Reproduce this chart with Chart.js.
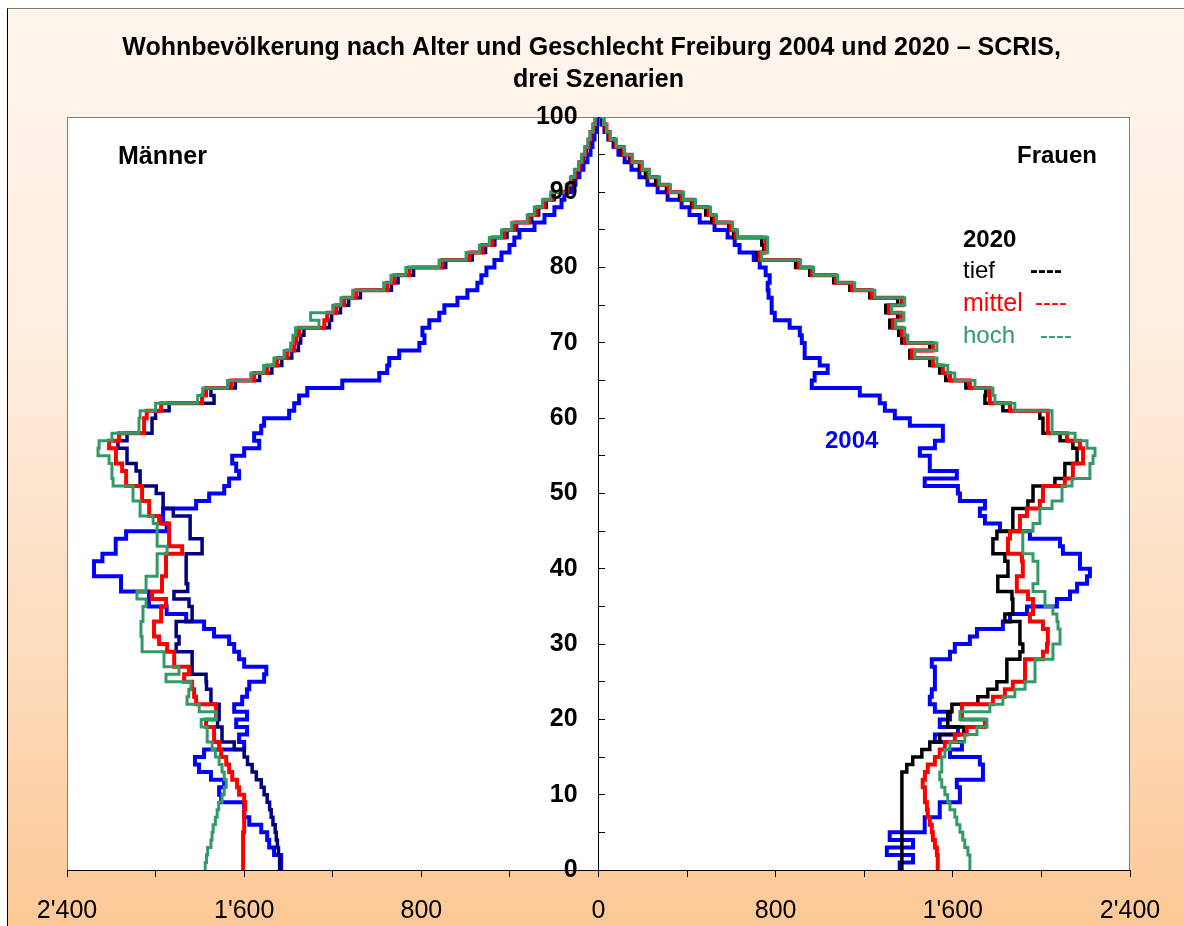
<!DOCTYPE html>
<html><head><meta charset="utf-8">
<script src="https://cdn.jsdelivr.net/npm/chart.js@4.4.0/dist/chart.umd.min.js"></script>
<style>
html,body{margin:0;padding:0;width:1184px;height:926px;overflow:hidden;background:#fff;font-family:'Liberation Sans',Arial,sans-serif;}
#frame{position:absolute;left:7px;top:8px;width:1177px;height:918px;border-left:1px solid #000;border-top:1px solid #777;box-sizing:border-box;background:linear-gradient(to bottom,#fef5ec 0%,#feeedf 35%,#fddcbd 70%,#fcc895 100%);}
#c{position:absolute;left:0;top:0;}
.lbl{position:absolute;white-space:nowrap;line-height:1;transform:translateY(-50%);}
</style></head><body>
<div id="frame"></div>
<canvas id="c" width="1184" height="926"></canvas>
<div class="lbl" style="left:118px;top:155px;font-weight:bold;font-size:25px;color:#000;">Männer</div>
<div class="lbl" style="left:1017px;top:155px;font-weight:bold;font-size:24px;color:#000;">Frauen</div>
<div class="lbl" style="left:825px;top:440px;font-weight:bold;font-size:24px;color:#0000ff;">2004</div>
<div class="lbl" style="left:963px;top:239px;font-weight:bold;font-size:24px;color:#000;">2020</div>
<div class="lbl" style="left:963px;top:270px;font-size:24px;color:#000;">tief</div>
<div class="lbl" style="left:1030px;top:270px;font-size:24px;font-weight:bold;color:#000;">----</div>
<div class="lbl" style="left:963px;top:302px;font-size:25px;color:#ff0000;">mittel</div>
<div class="lbl" style="left:1035px;top:302px;font-size:24px;color:#ff0000;">----</div>
<div class="lbl" style="left:963px;top:335px;font-size:24px;color:#339966;">hoch</div>
<div class="lbl" style="left:1040px;top:335px;font-size:24px;color:#339966;">----</div>
<script>
const ages = [0,1,2,3,4,5,6,7,8,9,10,11,12,13,14,15,16,17,18,19,20,21,22,23,24,25,26,27,28,29,30,31,32,33,34,35,36,37,38,39,40,41,42,43,44,45,46,47,48,49,50,51,52,53,54,55,56,57,58,59,60,61,62,63,64,65,66,67,68,69,70,71,72,73,74,75,76,77,78,79,80,81,82,83,84,85,86,87,88,89,90,91,92,93,94,95,96,97,98,99,100];

const maenner2004 = [1433,1433,1465,1487,1496,1523,1577,1600,1600,1704,
 1713,1690,1750,1804,1822,1781,1600,1623,1587,1636,
 1587,1645,1609,1587,1577,1510,1500,1600,1623,1645,
 1668,1736,1781,1862,1950,2030,2030,2156,2156,2278,
 2278,2240,2180,2180,2133,1950,1966,1966,1817,1758,
 1690,1668,1623,1636,1654,1600,1532,1555,1523,1510,
 1397,1374,1352,1315,1157,990,954,945,900,809,
 786,795,764,719,696,637,592,547,529,506,
 470,438,402,380,357,289,244,199,167,154,
 122,104,86,68,50,36,27,18,9,5,2];

const maennerTief = [1440,1440,1445,1450,1455,1460,1470,1478,1485,1496,
 1510,1523,1545,1564,1585,1600,1645,1700,1700,1720,
 1713,1713,1750,1750,1770,1772,1835,1835,1835,1907,
 1894,1907,1907,1835,1835,1849,1917,1855,1862,1862,
 1862,1862,1790,1790,1844,1844,1844,1920,1966,1966,
 1997,2070,2070,2088,2129,2129,2170,2129,2016,2016,
 2000,1939,1736,1750,1640,1530,1475,1430,1385,1355,
 1345,1330,1215,1205,1165,1128,1075,935,905,835,
 690,570,510,468,413,370,302,270,236,200,
 134,116,98,81,68,55,42,33,21,12,4];

const maennerMittel = [1605,1605,1605,1605,1605,1600,1600,1600,1595,1600,
 1623,1632,1654,1668,1681,1704,1713,1736,1736,1772,
 1727,1727,1817,1826,1835,1871,1849,1916,1916,1948,
 1984,2007,2007,1975,1975,1953,2016,1971,1971,1953,
 1953,1953,1880,1939,1939,1939,1984,2029,2029,2061,
 2061,2133,2133,2151,2179,2179,2210,2165,2052,2052,
 2040,1975,1790,1772,1659,1555,1496,1451,1406,1374,
 1365,1352,1238,1225,1184,1148,1094,954,922,854,
 705,583,524,479,425,380,312,280,244,208,
 140,122,104,86,72,59,45,36,23,14,5];

const maennerHoch = [1776,1770,1765,1750,1745,1740,1730,1722,1715,1700,
 1690,1681,1690,1700,1713,1730,1745,1767,1767,1794,
 1727,1803,1858,1850,1840,1953,1894,1962,1962,2061,
 2061,2066,2066,2057,2057,2043,2084,2043,2043,1993,
 1993,1993,1948,1993,1993,1993,2011,2070,2070,2102,
 2102,2192,2197,2197,2210,2260,2255,2197,2075,2075,
 2070,2000,1810,1787,1675,1570,1512,1466,1420,1390,
 1380,1368,1262,1300,1200,1163,1110,970,937,870,
 720,598,538,493,438,392,322,290,253,216,
 146,127,109,90,76,62,48,38,25,15,6];

const frauen2004 = [1360,1420,1302,1420,1315,1473,1473,1541,1541,1632,
 1632,1618,1736,1736,1722,1587,1641,1519,1623,1541,
 1587,1519,1496,1505,1519,1519,1519,1505,1587,1609,
 1677,1709,1826,1858,1935,2070,2129,2161,2206,2219,
 2174,2174,2097,2084,1948,1813,1745,1722,1745,1632,
 1623,1473,1618,1496,1496,1451,1519,1555,1555,1406,
 1338,1293,1270,1180,963,976,1035,999,931,931,
 918,909,863,796,782,782,768,764,773,755,
 728,701,637,615,583,524,457,411,375,312,
 267,221,185,149,118,90,68,45,27,14,5];

const frauenTief = [1370,1370,1370,1370,1370,1370,1370,1370,1370,1370,
 1370,1370,1370,1392,1419,1460,1496,1541,1650,1577,
 1577,1596,1713,1758,1799,1844,1844,1844,1903,1916,
 1903,1903,1903,1835,1871,1871,1867,1803,1803,1849,
 1849,1835,1781,1781,1799,1871,1871,1871,1939,1962,
 1962,2061,2106,2106,2161,2161,2142,2084,2007,2007,
 1993,1826,1745,1749,1659,1568,1541,1496,1406,1496,
 1370,1356,1315,1351,1297,1351,1225,1135,1062,954,
 890,714,746,737,610,588,511,484,420,366,
 307,258,212,185,140,104,72,45,32,18,9];

const frauenMittel = [1532,1532,1528,1519,1510,1505,1496,1487,1483,1474,
 1474,1464,1474,1487,1519,1541,1564,1609,1663,1745,
 1641,1641,1781,1835,1871,1926,1926,1926,2007,2025,
 2029,2029,2007,1948,1962,1962,1939,1889,1889,1916,
 1916,1912,1849,1849,1858,1903,1903,1935,1993,2007,
 2007,2106,2142,2142,2188,2188,2174,2115,2029,2029,
 2029,1858,1767,1767,1677,1587,1555,1510,1415,1510,
 1383,1370,1329,1365,1311,1370,1234,1144,1071,963,
 904,728,755,755,619,597,524,497,429,375,
 316,271,226,194,149,113,77,50,36,23,9];

const frauenHoch = [1677,1677,1668,1654,1645,1632,1618,1609,1587,1577,
 1564,1550,1541,1550,1550,1564,1587,1654,1709,1754,
 1632,1767,1826,1880,1926,1971,1971,1971,2052,2052,
 2084,2084,2075,2070,2052,2016,2016,1962,1984,1984,
 1984,1962,1916,1916,1916,1962,1993,1993,2048,2093,
 2093,2138,2219,2219,2233,2242,2206,2152,2048,2048,
 2048,1880,1790,1781,1700,1609,1577,1528,1428,1528,
 1397,1383,1342,1379,1324,1383,1248,1157,1080,972,
 913,737,764,764,628,606,533,506,438,384,
 325,276,231,199,154,118,81,54,36,23,9];

const xMin = -2400, xMax = 2400, xStep = 400, xLabelStep = 800;
const yMin = 0, yMax = 100, yStep = 5, yLabelStep = 10;
const titleLines = ['Wohnbevölkerung nach Alter und Geschlecht Freiburg 2004 und 2020 – SCRIS,  ', 'drei Szenarien'];

function fmt(n){
  n = Math.abs(Math.round(n));
  if (n >= 1000) return Math.floor(n/1000) + "'" + String(n % 1000).padStart(3,'0');
  return String(n);
}
function ds(label, vals, sign, color, width){
  return {
    label: label,
    data: ages.map((a,i) => ({x: sign*vals[i], y: a})),
    borderColor: color, backgroundColor: color, borderWidth: width,
    showLine: true, stepped: 'after', pointRadius: 0, pointHoverRadius: 0,
    fill: false, tension: 0, borderJoinStyle: 'miter', borderCapStyle: 'butt'
  };
}
const areaPlugin = {
  id: 'areaBg',
  beforeDraw(chart){
    const {ctx, chartArea: a} = chart;
    ctx.save();
    ctx.fillStyle = '#ffffff';
    ctx.fillRect(a.left, a.top, a.right - a.left, a.bottom - a.top);
    ctx.strokeStyle = '#7f7f7f';
    ctx.lineWidth = 1;
    ctx.strokeRect(Math.round(a.left)+0.5, Math.round(a.top)+0.5, Math.round(a.right-a.left)-1, Math.round(a.bottom-a.top));
    ctx.restore();
  }
};
Chart.defaults.font.family = "'Liberation Sans', Arial, sans-serif";
Chart.defaults.color = '#000';
new Chart(document.getElementById('c'), {
  type: 'scatter',
  data: {
    datasets: [
      ds('Männer hoch', maennerHoch, -1, '#339966', 3),
      ds('Frauen hoch', frauenHoch, 1, '#339966', 3),
      ds('Männer mittel', maennerMittel, -1, '#ff0000', 4),
      ds('Frauen mittel', frauenMittel, 1, '#ff0000', 4),
      ds('Männer tief', maennerTief, -1, '#000080', 3.5),
      ds('Frauen tief', frauenTief, 1, '#000000', 3.5),
      ds('Männer 2004', maenner2004, -1, '#0000ff', 4),
      ds('Frauen 2004', frauen2004, 1, '#0000ff', 4)
    ]
  },
  options: {
    responsive: false,
    animation: false,
    events: [],
    layout: { padding: { left: 67, right: 54, top: 32, bottom: 0 } },
    plugins: {
      legend: { display: false },
      tooltip: { enabled: false },
      title: {
        display: true, text: titleLines, color: '#000',
        font: { size: 25, weight: 'bold', lineHeight: 1.28 },
        padding: { top: 0, bottom: 21 }
      }
    },
    scales: {
      x: {
        type: 'linear', min: xMin, max: xMax,
        afterFit: s => { s.height = 56; },
        ticks: {
          stepSize: xStep, autoSkip: false, maxRotation: 0, padding: 19,
          font: { size: 25 }, color: '#000',
          callback: v => (v % xLabelStep === 0 ? fmt(v) : '')
        },
        grid: { drawOnChartArea: false, drawTicks: true, tickLength: 7, color: '#000' },
        border: { color: '#000', width: 1 }
      },
      y: {
        type: 'linear', min: yMin, max: yMax, position: { x: 0 },
        ticks: {
          stepSize: yStep, autoSkip: false, padding: 28, z: 1,
          font: { size: 25, weight: 'bold' }, color: '#000',
          callback: v => (v % yLabelStep === 0 ? String(v) + '   ' : '')
        },
        grid: { drawOnChartArea: false, drawTicks: true, tickLength: -7, color: '#000' },
        border: { color: '#000', width: 1 }
      }
    }
  },
  plugins: [areaPlugin]
});
</script>
</body></html>
